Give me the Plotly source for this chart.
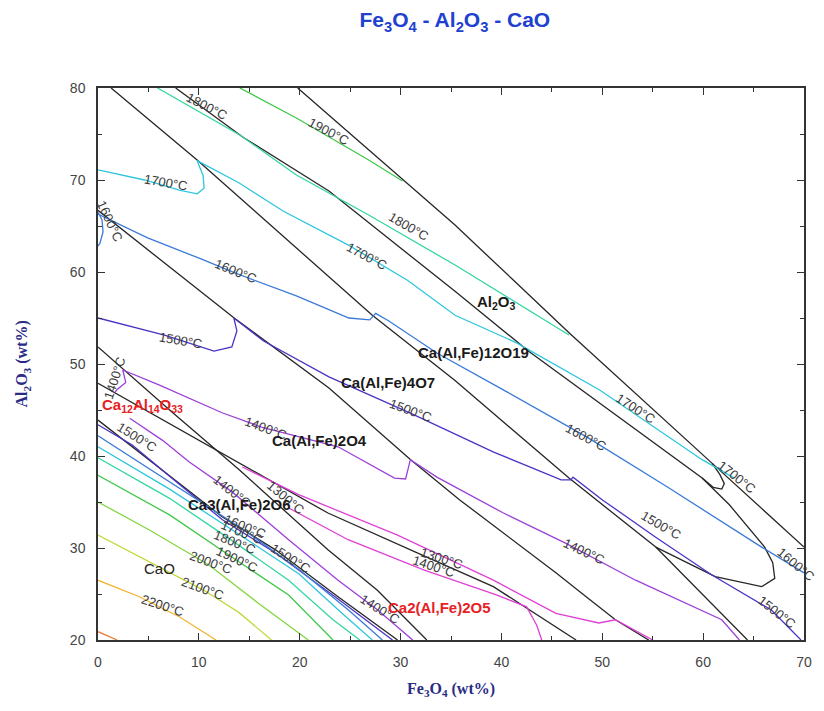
import plotly.graph_objects as go

# ---------------- phase boundaries (black) : Fe3O4 wt% , Al2O3 wt% ----------------
K1_X = [19.8, 30.2, 35.4, 41.2, 46.7, 60.9, 70.0]
K1_Y = [80.0, 70.0, 65.1, 59.1, 53.4, 39.2, 30.1]
K2_X = [7.7, 14.45, 22.9, 35.4, 42.8, 59.9, 62.6, 66.1, 66.9, 67.1, 65.8, 61.2, 55.3]
K2_Y = [80.0, 74.6, 68.8, 57.9, 51.3, 37.6, 34.7, 30.1, 28.4, 26.7, 25.8, 26.9, 30.1]
K3_X = [1.3, 9.8, 27.2, 35.4, 46.7, 55.3, 64.4]
K3_Y = [80.0, 72.2, 55.3, 48.2, 37.6, 30.1, 20.0]
K4_X = [59.9, 61.0, 61.85, 62.1, 61.65, 60.9]
K4_Y = [37.6, 36.6, 36.4, 37.0, 38.0, 39.2]
K5_X = [0.0, 13.5, 22.9, 31.0, 35.9, 45.4, 48.4, 51.3, 54.6]
K5_Y = [66.7, 55.0, 47.4, 39.6, 35.2, 27.3, 24.7, 22.2, 20.0]
K6_X = [0.0, 7.1, 14.0, 22.8, 27.7, 32.6]
K6_Y = [51.85, 45.0, 38.5, 29.8, 25.4, 20.0]
K7_X = [0.0, 10.0, 22.8, 32.6, 39.2, 47.4]
K7_Y = [47.9, 41.7, 33.8, 29.0, 25.8, 20.0]
K8_X = [0.0, 6.8, 12.3, 17.6, 23.8, 29.7]
K8_Y = [43.9, 38.15, 33.4, 29.8, 24.7, 20.0]

# ---------------- isotherms ----------------
T1900_X = [14.06, 19.67, 26.84, 30.19]
T1900_Y = [80.0, 76.74, 72.17, 69.89]
T1800_X = [5.9, 14.06, 19.67, 26.84, 35.4, 41.5, 46.7]
T1800_Y = [80.0, 74.89, 70.54, 66.2, 60.76, 56.7, 53.15]
T1700_X = [0.0, 4.62, 8.06, 9.83, 10.52, 10.42, 9.83, 13.96, 18.39, 24.88, 30.68, 35.4, 41.5, 49.7, 59.9, 63.1]
T1700_Y = [71.1, 70.0, 68.9, 68.5, 69.1, 70.5, 72.1, 69.7, 66.6, 62.9, 59.1, 55.3, 52.3, 47.2, 39.6, 37.6]
T1600A_X = [0.0, 0.4, 0.5, 0.2, 0.0]
T1600A_Y = [66.5, 65.65, 64.35, 63.15, 62.8]
T1600_X = [0.0, 4.92, 10.03, 13.57, 19.67, 24.88, 26.94, 27.53, 28.8, 33.6, 40.5, 48.4, 56.5, 65.8, 70.0]
T1600_Y = [66.3, 63.7, 61.5, 59.9, 57.4, 55.0, 54.8, 55.5, 54.7, 51.2, 47.0, 42.1, 36.6, 30.1, 27.3]
T1500_X = [0.0, 6.59, 11.5, 13.27, 13.77, 13.47, 16.42, 22.9, 30.97, 39.23, 45.92, 46.9, 47.1, 50.05, 55.26, 60.87, 66.76, 69.7]
T1500_Y = [55.0, 53.15, 51.4, 51.85, 53.6, 55.0, 52.5, 48.6, 44.67, 40.43, 37.4, 37.4, 37.7, 35.2, 31.2, 27.07, 23.26, 20.0]
T1400_X = [2.46, 6.1, 12.3, 16.2, 23.8, 29.4, 30.5, 30.97, 33.6, 40.2, 46.4, 53.3, 61.85, 63.6]
T1400_Y = [49.35, 47.7, 44.7, 43.15, 41.0, 37.6, 37.5, 39.6, 37.7, 33.8, 30.5, 26.5, 22.2, 20.0]
T1400A_X = [2.46, 2.75, 1.87, 1.67]
T1400A_Y = [49.35, 48.0, 47.2, 46.9]
T1400C_X = [3.15, 6.4, 9.05, 13.3, 18.9, 23.8, 27.7, 31.2]
T1400C_Y = [44.1, 41.7, 39.35, 36.1, 30.9, 26.5, 23.3, 20.0]
T1300A_X = [14.3, 19.9, 29.7, 39.2, 45.4, 49.66, 51.3, 55.0]
T1300A_Y = [38.8, 35.8, 31.4, 26.5, 22.9, 21.85, 22.2, 20.0]
T1300B_X = [18.9, 24.8, 32.35, 39.5, 42.5, 43.5, 44.0]
T1300B_Y = [34.35, 30.9, 27.6, 24.9, 23.6, 21.6, 20.0]
# CaO primary field
C1500_X = [0.0, 3.4, 7.1, 12.3, 17.6, 23.8, 29.2]
C1500_Y = [43.4, 41.2, 37.8, 33.1, 29.46, 24.46, 20.0]
C1600_X = [0.0, 7.1, 14.3, 19.9, 24.8, 28.2]
C1600_Y = [42.2, 37.2, 32.1, 27.7, 23.3, 20.0]
C1700_X = [0.0, 7.1, 13.96, 19.9, 24.3, 27.2]
C1700_Y = [41.0, 36.4, 31.5, 27.2, 22.8, 20.0]
C1800_X = [0.0, 7.1, 13.3, 18.9, 23.3, 25.96]
C1800_Y = [39.8, 35.4, 30.8, 26.5, 22.2, 20.0]
C1900_X = [0.0, 7.1, 13.7, 18.9, 23.3]
C1900_Y = [37.9, 33.6, 28.7, 24.9, 20.0]
C2000_X = [0.0, 5.1, 11.0, 15.9, 20.85]
C2000_Y = [35.0, 31.96, 28.15, 24.0, 20.0]
C2100_X = [0.0, 5.1, 10.5, 13.96, 17.2]
C2100_Y = [31.4, 28.5, 25.4, 23.0, 20.0]
C2200_X = [0.0, 4.1, 8.1, 11.7]
C2200_Y = [26.5, 24.7, 22.5, 20.0]
C2300_X = [0.0, 1.9]
C2300_Y = [20.9, 20.0]

X_TICKS = [0, 10, 20, 30, 40, 50, 60, 70]
Y_TICKS = [20, 30, 40, 50, 60, 70, 80]

# isotherm labels: text, x, y, angle
ISO_TEXT = ["1900°C", "1800°C", "1800°C", "1700°C", "1700°C", "1700°C", "1700°C",
            "1600°C", "1600°C", "1600°C", "1600°C", "1500°C", "1500°C", "1500°C", "1500°C",
            "1400°C", "1400°C", "1400°C", "1500°C", "1400°C", "1300°C", "1600°C", "1700°C",
            "1800°C", "1900°C", "1500°C", "2000°C", "2100°C", "2200°C", "1300°C", "1400°C", "1400°C"]
ISO_X = [22.9, 10.8, 30.8, 6.7, 26.7, 53.3, 63.4, 1.2, 13.7, 48.4, 69.2, 8.2, 31.0, 55.85, 67.35,
         1.7, 16.7, 48.2, 3.9, 13.3, 18.6, 14.55, 14.3, 13.6, 13.8, 19.1, 11.2, 10.4, 6.4, 34.1, 33.3, 28.0]
ISO_Y = [75.3, 78.0, 65.0, 69.7, 61.7, 45.2, 37.7, 65.5, 60.1, 42.0, 28.2, 52.6, 45.0, 32.4, 23.0,
         48.5, 43.0, 29.6, 42.0, 36.1, 35.5, 32.3, 31.7, 30.65, 28.7, 28.9, 28.4, 25.65, 23.8, 28.9, 28.0, 23.3]
ISO_ANG = [28, 27, 30, 10, 28, 33, 38, 65, 22, 28, 40, 10, 20, 30, 38,
           -72, 20, 25, 32, 38, 40, 22, 22, 22, 25, 32, 20, 20, 18, 18, 18, 32]

PHASE_TEXT = ["Al<sub>2</sub>O<sub>3</sub>", "Ca(Al,Fe)12O19", "Ca(Al,Fe)4O7", "Ca(Al,Fe)2O4",
              "Ca3(Al,Fe)2O6", "Ca<sub>12</sub>Al<sub>14</sub>O<sub>33</sub>", "Ca2(Al,Fe)2O5"]
PHASE_X = [39.5, 37.2, 28.8, 22.0, 14.0, 4.4, 33.9]
PHASE_Y = [56.7, 51.3, 48.0, 41.7, 34.7, 45.5, 23.5]
PHASE_RED = [False, False, False, False, False, True, True]

BLACK = "#262626"
COL = {2300: "#e87a3c", 2200: "#f2b530", 2100: "#c3d83c", 2000: "#84d640", 1900: "#40c84a",
       1800: "#33d6a2", 1700: "#2ec6de", 1600: "#3a7ad8", 1500: "#4a34c6", 1400: "#9c40d8",
       1300: "#e040d6"}

lines = [
    (K1_X, K1_Y, BLACK), (K2_X, K2_Y, BLACK), (K3_X, K3_Y, BLACK), (K4_X, K4_Y, BLACK),
    (K5_X, K5_Y, BLACK), (K6_X, K6_Y, BLACK), (K7_X, K7_Y, BLACK), (K8_X, K8_Y, BLACK),
    (T1900_X, T1900_Y, COL[1900]), (T1800_X, T1800_Y, COL[1800]), (T1700_X, T1700_Y, COL[1700]),
    (T1600A_X, T1600A_Y, COL[1600]), (T1600_X, T1600_Y, COL[1600]), (T1500_X, T1500_Y, COL[1500]),
    (T1400_X, T1400_Y, COL[1400]), (T1400A_X, T1400A_Y, COL[1400]), (T1400C_X, T1400C_Y, COL[1400]),
    (T1300A_X, T1300A_Y, COL[1300]), (T1300B_X, T1300B_Y, COL[1300]),
    (C1500_X, C1500_Y, COL[1500]), (C1600_X, C1600_Y, COL[1600]), (C1700_X, C1700_Y, COL[1700]),
    (C1800_X, C1800_Y, COL[1800]), (C1900_X, C1900_Y, COL[1900]), (C2000_X, C2000_Y, COL[2000]),
    (C2100_X, C2100_Y, COL[2100]), (C2200_X, C2200_Y, COL[2200]), (C2300_X, C2300_Y, COL[2300]),
]

fig = go.Figure()
for xs, ys, c in lines:
    fig.add_trace(go.Scatter(x=xs, y=ys, mode="lines", line=dict(color=c, width=1.3),
                             hoverinfo="skip", showlegend=False))

ann = []
for t, x, y, a in zip(ISO_TEXT, ISO_X, ISO_Y, ISO_ANG):
    ann.append(dict(x=x, y=y, text=t, textangle=a, showarrow=False,
                    font=dict(family="Arial", size=13, color="#3a3a3a")))
for t, x, y, r in zip(PHASE_TEXT, PHASE_X, PHASE_Y, PHASE_RED):
    ann.append(dict(x=x, y=y, text="<b>" + t + "</b>", showarrow=False,
                    font=dict(family="Arial", size=15, color="#e8201f" if r else "#1a1a1a")))
ann.append(dict(x=6.1, y=27.8, text="CaO", showarrow=False,
                font=dict(family="Arial", size=15, color="#222222")))
# axis titles
ann.append(dict(xref="paper", yref="paper", x=0.5, y=-0.09, yanchor="middle",
                text="<b>Fe<sub>3</sub>O<sub>4</sub> (wt%)</b>", showarrow=False,
                font=dict(family="Liberation Serif", size=16, color="#2b2b85")))
ann.append(dict(xref="paper", yref="paper", x=-0.107, y=0.5, xanchor="center",
                text="<b>Al<sub>2</sub>O<sub>3</sub> (wt%)</b>", showarrow=False, textangle=-90,
                font=dict(family="Liberation Serif", size=16, color="#2b2b85")))

axis_common = dict(showgrid=False, zeroline=False, showline=True, linecolor="#333333", linewidth=1.5,
                   mirror="ticks", ticks="inside", ticklen=7, tickcolor="#333333", tickwidth=1,
                   tickfont=dict(family="Arial", size=14, color="#444444"), ticklabelstandoff=8,
                   minor=dict(ticks="inside", ticklen=4, tickcolor="#333333", dtick=5))

fig.update_layout(
    width=824, height=711,
    margin=dict(l=98, r=14, t=88, b=71),
    paper_bgcolor="white", plot_bgcolor="white",
    title=dict(text="<b>Fe<sub>3</sub>O<sub>4</sub> - Al<sub>2</sub>O<sub>3</sub> - CaO</b>",
               x=0.552, xanchor="center", y=0.972, yanchor="middle",
               font=dict(family="Arial", size=21, color="#2040d0")),
    xaxis=dict(range=[0, 70], tickvals=X_TICKS, **axis_common),
    yaxis=dict(range=[20, 80], tickvals=Y_TICKS, **axis_common),
    annotations=ann,
)

fig.write_html("out.html")
